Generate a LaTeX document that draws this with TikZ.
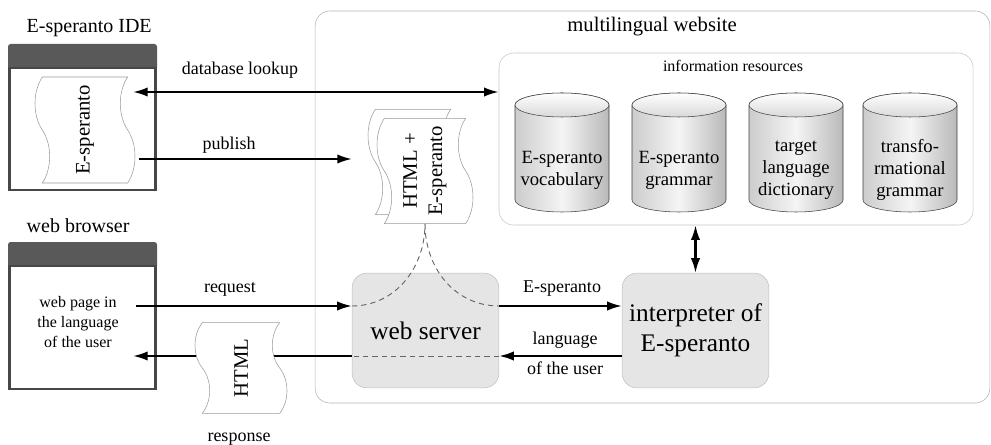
\documentclass[tikz,border=0pt]{standalone}
\usepackage{fontspec}
\setmainfont{Liberation Serif}
\usetikzlibrary{arrows.meta,shapes.symbols,positioning}

\tikzset{
  arr/.style={line width=1.6pt,-{Latex[length=11pt,width=7pt]}},
  dbl/.style={line width=1.6pt,{Latex[length=11pt,width=7pt]}-{Latex[length=11pt,width=7pt]}},
  guide/.style={black!60,line width=0.7pt,dash pattern=on 4pt off 3pt},
  doc/.style={tape,draw=gray!80,fill=white,rotate=90,tape bend height=11pt,
    inner sep=1pt,align=center,font=\fontsize{15.5}{19}\selectfont},
  proc/.style={rectangle,rounded corners=11pt,draw=gray!50,fill=gray!20,
    minimum width=110pt,minimum height=86pt,align=center,
    font=\fontsize{19}{22.5}\selectfont},
  lbl/.style={font=\fontsize{13.5}{16}\selectfont,anchor=base},
  title/.style={font=\fontsize{15}{18}\selectfont,anchor=base west},
  winbar/.style={fill=black!65,rounded corners=2pt},
  winbody/.style={draw=black!72,line width=2.2pt,fill=white},
  cyltxt/.style={align=center,font=\fontsize{14}{16.5}\selectfont},
}

\begin{document}
\begin{tikzpicture}[x=0.75pt,y=-0.75pt]
\useasboundingbox (0,0) rectangle (991,445);
% multilingual website
\node[draw=gray!60,rounded corners=11pt,minimum width=506pt,minimum height=294pt] (site) at (652.5,207) {};
\node[font=\fontsize{15.5}{18}\selectfont,anchor=base] (sitelbl) at (652,32) {multilingual website};
% information resources
\node[draw=gray!45,rounded corners=11pt,minimum width=355.5pt,minimum height=129pt] (info) at (736,139) {};
\node[font=\fontsize{12}{14}\selectfont,anchor=base] (infolbl) at (733,72) {information resources};
% databases
\foreach \cx/\txt [count=\i] in {562/{E-speranto\\vocabulary},679/{E-speranto\\grammar},
    796/{target\\language\\dictionary},910/{transfo-\\rmational\\grammar}}
{
  \path[draw=black!75,left color=gray!40,right color=gray!55,middle color=gray!8]
    (\cx-47,105) -- (\cx-47,200) arc[start angle=180,end angle=0,x radius=47,y radius=12]
    -- (\cx+47,105) arc[start angle=0,end angle=-180,x radius=47,y radius=12] -- cycle;
  \path[draw=black!75,top color=white,bottom color=gray!30] (\cx,105) ellipse [x radius=47,y radius=12];
  \node[cyltxt] (db\i) at (\cx,170) {\txt};
}
% IDE window
\node[title] (idelbl) at (22,33) {E-speranto IDE};
\fill[winbar] (8,44) rectangle (157,70);
\node[winbody,minimum width=109.5pt,minimum height=91.5pt] (ide) at (82.5,129) {};
\node[doc,minimum width=79.5pt,minimum height=75pt] (idedoc) at (85,130) {E-speranto};
% browser window
\node[title] (browserlbl) at (22,233) {web browser};
\fill[winbar] (8,242) rectangle (157,268);
\node[winbody,minimum width=109.5pt,minimum height=92.25pt] (browser) at (82.5,327.5) {};
\node[align=center,font=\fontsize{12}{15}\selectfont] (page) at (78,322) {web page in\\the language\\of the user};
% servers
\node[proc] (ws) at (425.5,330.5) {web server};
\node[proc] (interp) at (695.5,330.5) {interpreter of\\E-speranto};
\coordinate (upper) at (0,306);
\coordinate (lower) at (0,356);
% published page
\node[doc,minimum width=79pt,minimum height=67.5pt] (back) at (413,162) {};
\node[doc,minimum width=79pt,minimum height=72pt] (front) at (425,171) {HTML +\\E-speranto};
\draw[guide] (ws.west |- upper) .. controls (395,306) and (425,268) .. (front.west);
\draw[guide] (front.west) .. controls (425,268) and (455,306) .. (ws.east |- upper);
% arrows
\coordinate (lookup) at (133,92);
\draw[dbl] (lookup) -- (lookup -| info.west);
\node[lbl] (lookuplbl) at (240,75) {database lookup};
\coordinate (pubA) at (139,159);
\coordinate (pubB) at (352,159);
\draw[arr] (pubA) -- (pubB);
\node[lbl] (publbl) at (229,150) {publish};
\coordinate (req) at (136,306);
\draw[arr] (req) -- (ws.west |- upper);
\node[lbl] (reqlbl) at (230,292) {request};
\coordinate (resp) at (133,356);
\draw[arr] (ws.west |- lower) -- (resp);
\draw[guide] (ws.east |- lower) -- (ws.west |- lower);
\node[doc,minimum width=68pt,minimum height=69pt] (html) at (241,368) {HTML};
\node[lbl] (resplbl) at (239,441) {response};
\draw[arr] (ws.east |- upper) -- (interp.west |- upper);
\node[lbl] (esplbl) at (562,292) {E-speranto};
\draw[arr] (interp.west |- lower) -- (ws.east |- lower);
\node[lbl] (langlbl) at (565,344) {language};
\node[lbl] (userlbl) at (565,374) {of the user};
\draw[dbl] (interp.north) -- (interp.north |- info.south);
\end{tikzpicture}
\end{document}
